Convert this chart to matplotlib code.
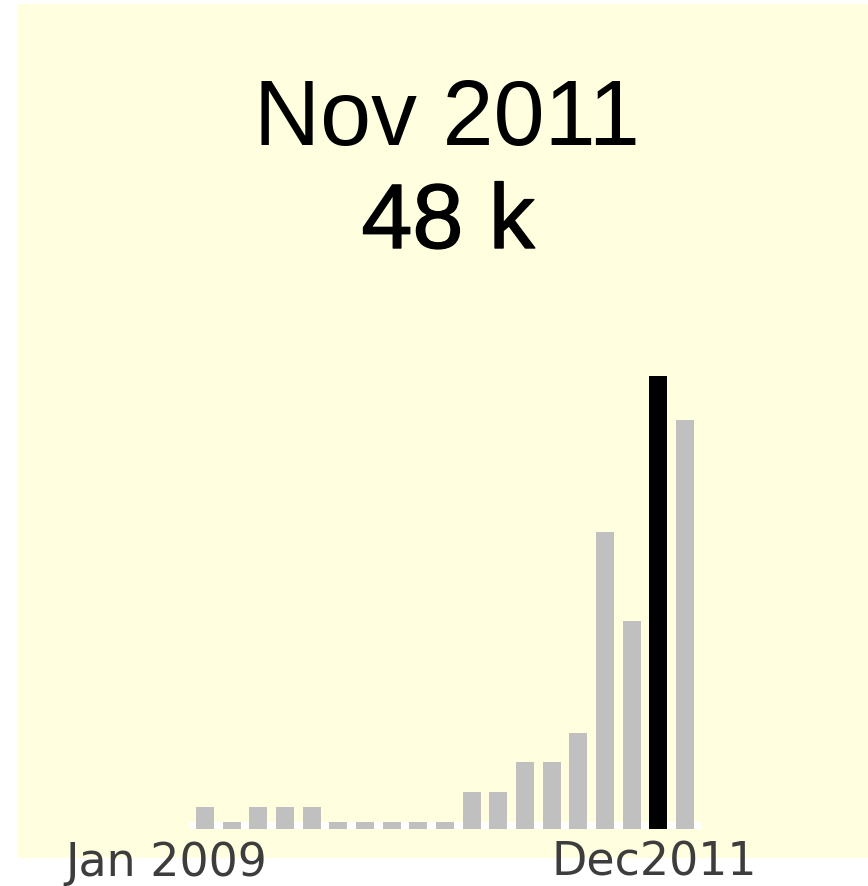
import numpy as np
import matplotlib
matplotlib.use('Agg')
import matplotlib.pyplot as plt
import matplotlib.patheffects as pe

'''Data'''
# monthly counts in thousands; highlighted month is Nov 2011
values = [2.3, 0.7, 2.3, 2.3, 2.3, 0.7, 0.7, 0.7, 0.7, 0.7,
          3.9, 3.9, 7.1, 7.1, 10.2, 31.5, 22.0, 48.0, 43.3]
highlight = 17
title_month = 'Nov 2011'
title_value = '48 k'
start_label = 'Jan 2009'
end_label = 'Dec2011'

W, H = 868, 886
def fx(px):
    return px / W
def fy(py):
    return 1 - py / H

fig = plt.figure(figsize=(W / 100, H / 100), dpi=100)
fig.patch.set_facecolor('white')

# yellow panel behind everything
bg = fig.add_axes([fx(18), fy(858), 850 / W, 854 / H])
bg.set_facecolor('#ffffe0')
bg.set_xticks([])
bg.set_yticks([])
for s in bg.spines.values():
    s.set_visible(False)

'''Bars'''
ax = fig.add_axes([fx(189), fy(829), 513 / W, 453 / H])
ax.patch.set_alpha(0)
x = np.arange(len(values))
colors = ['black' if i == highlight else '#c0c0c0' for i in x]
ax.axhspan(0, 0.74, color='white', zorder=0, lw=0)
ax.bar(x, values, width=0.68, color=colors, zorder=2, linewidth=0)
ax.set_xlim(-0.6, len(values) - 0.36)
ax.set_ylim(0, max(values))
ax.axis('off')

'''Text'''
fig.text(fx(447), fy(145), title_month, ha='center', va='baseline',
         fontsize=66, family='Liberation Sans', color='black')
fig.text(fx(448), fy(248), title_value, ha='center', va='baseline',
         fontsize=66, family='Liberation Sans', color='black',
         path_effects=[pe.withStroke(linewidth=1, foreground='black')])
fig.text(fx(166), fy(876), start_label, ha='center', va='baseline',
         fontsize=33, family='DejaVu Sans', color='#3d3d3d')
fig.text(fx(654), fy(876), end_label, ha='center', va='baseline',
         fontsize=33, family='DejaVu Sans', color='#3d3d3d')

fig.savefig('out.png', dpi=100)
